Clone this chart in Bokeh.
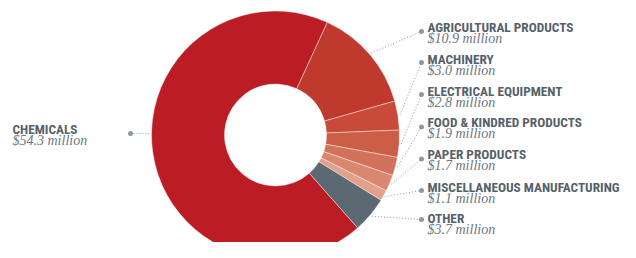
import math
from bokeh.plotting import figure
from bokeh.models import Range1d, ColumnDataSource
from bokeh.core.properties import value
from bokeh.embed import file_html
from bokeh.resources import INLINE

categories = ["CHEMICALS", "AGRICULTURAL PRODUCTS", "MACHINERY", "ELECTRICAL EQUIPMENT",
              "FOOD & KINDRED PRODUCTS", "PAPER PRODUCTS", "MISCELLANEOUS MANUFACTURING", "OTHER"]
values = [54.3, 10.9, 3.0, 2.8, 1.9, 1.7, 1.1, 3.7]
value_labels = ["$54.3 million", "$10.9 million", "$3.0 million", "$2.8 million",
                "$1.9 million", "$1.7 million", "$1.1 million", "$3.7 million"]
colors = ["#BC1D24", "#C0392D", "#C94A38", "#CC5E48", "#D3725A", "#DA876F", "#E3A08C", "#5C6872"]

# layout (picture pixel coordinates)
CX, CY = 275, 134.5
R_OUT, R_IN = 124, 51
START_CW = 24.7 - 360 * 54.3 / sum(values)  # chemicals start, degrees clockwise from top

W, H = 620, 242
p = figure(width=W, height=H, output_backend="svg", toolbar_location=None,
           x_range=Range1d(0, W), y_range=Range1d(-H, 0),
           min_border=0)
p.axis.visible = False
p.grid.visible = False
p.outline_line_color = None
p.background_fill_color = "white"
p.border_fill_color = "white"

total = sum(values)
starts, ends, mids = [], [], []
acc = START_CW
for v in values:
    a0 = acc
    a1 = acc + 360 * v / total
    acc = a1
    starts.append(math.radians(90 - a0))
    ends.append(math.radians(90 - a1))
    mids.append((a0 + a1) / 2)

src = ColumnDataSource(dict(start=starts, end=ends, color=colors))
p.annular_wedge(x=CX, y=-CY, inner_radius=R_IN, outer_radius=R_OUT,
                start_angle="start", end_angle="end", direction="clock",
                fill_color="color", line_color="white", line_width=0.6, line_alpha=0.7,
                source=src)

# leader lines + labels
DOT_X = 421
LABEL_X = 427
dot_y = [133, 31, 62, 94, 126.5, 158.5, 190, 219]
name_base = [128.5, 27.3, 59.3, 90.7, 122.3, 154.3, 186.7, 218.3]
gray_line = "#8A9AA4"
name_color = "#56616B"
val_color = "#6B7781"

xs, ys = [], []
for i in range(len(values)):
    if i == 0:
        xs.append([130, 151])
        ys.append([-133, -133])
    else:
        a = math.radians(mids[i])
        r = R_OUT + 2
        sx = CX + r * math.sin(a)
        sy = CY - r * math.cos(a)
        xs.append([sx, DOT_X])
        ys.append([-sy, -dot_y[i]])
p.multi_line(xs=xs, ys=ys, line_color=gray_line, line_width=1, line_dash="1 2")
p.scatter(x=[130] + [DOT_X] * 7, y=[-d for d in dot_y], size=5, marker="circle",
          fill_color=gray_line, line_color=None)

name_x = [12] + [LABEL_X] * 7
name_y = [-b for b in name_base]
val_y = [-(b + 11) for b in name_base]
p.text(x=name_x, y=name_y, text=categories, text_font=value("Roboto Condensed"),
       text_font_style="bold", text_font_size="13.3px", text_color=name_color,
       text_baseline="alphabetic", text_align="left")
p.text(x=name_x, y=val_y, text=value_labels, text_font=value("Liberation Serif"),
       text_font_style="italic", text_font_size="14px", text_color=val_color,
       text_baseline="alphabetic", text_align="left")

open("out.html", "w").write(file_html(p, INLINE))
